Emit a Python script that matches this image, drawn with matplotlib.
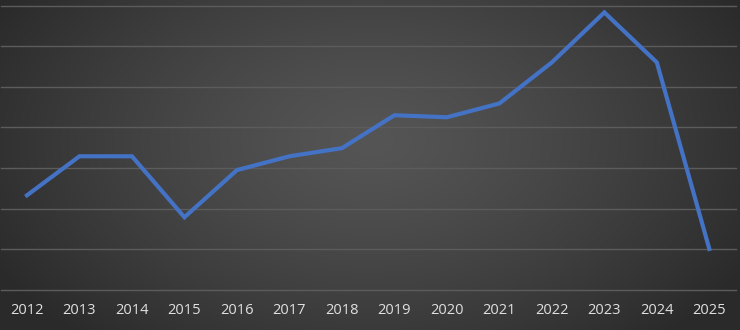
import numpy as np
import matplotlib
matplotlib.use("Agg")
import matplotlib.pyplot as plt

years = ["2012", "2013", "2014", "2015", "2016", "2017", "2018",
         "2019", "2020", "2021", "2022", "2023", "2024", "2025"]
values = [2.33, 3.29, 3.29, 1.79, 2.95, 3.29, 3.49,
          4.30, 4.25, 4.59, 5.60, 6.83, 5.60, 1.01]

fig = plt.figure(figsize=(7.4, 3.3), dpi=100)

# radial gradient background
bg = fig.add_axes([0, 0, 1, 1], zorder=0)
bg.set_axis_off()
W, H = 740, 330
yy, xx = np.mgrid[0:H, 0:W]
cx, cy = 370, 140
r = np.sqrt(((xx - cx) / 430.0) ** 2 + ((yy - cy) / 270.0) ** 2)
r = np.clip(r, 0, 1)
inner, outer = 0x55, 0x2a
g = (inner + (outer - inner) * r ** 1.3) / 255.0
img = np.dstack([g, g, g])
bg.imshow(img, aspect="auto", extent=[0, 1, 0, 1], origin="upper")
bg.set_xlim(0, 1)
bg.set_ylim(0, 1)

ax = fig.add_axes([0.001, 1 - 290 / 330, 0.993, (290 - 5.5) / 330], zorder=1)
ax.patch.set_alpha(0)
x = np.arange(len(years))
ax.set_xlim(-0.5, len(years) - 0.5)
ax.set_ylim(0, 7)
ax.set_yticks(np.arange(0, 8))
ax.yaxis.grid(True, color="#5c5c5c", linewidth=1.0)
ax.set_axisbelow(True)
for s in ax.spines.values():
    s.set_visible(False)
ax.tick_params(axis="y", left=False, labelleft=False)
ax.tick_params(axis="x", bottom=False, colors="#e0e0e0", labelsize=10.5, pad=6)
ax.set_xticks(x)
ax.set_xticklabels(years, fontfamily="Open Sans")
for gl in ax.get_ygridlines():
    gl.set_clip_on(False)

ax.plot(x, values, color="#4472C4", linewidth=3.0, solid_joinstyle="miter", zorder=3)

fig.savefig("out.png", dpi=100)
